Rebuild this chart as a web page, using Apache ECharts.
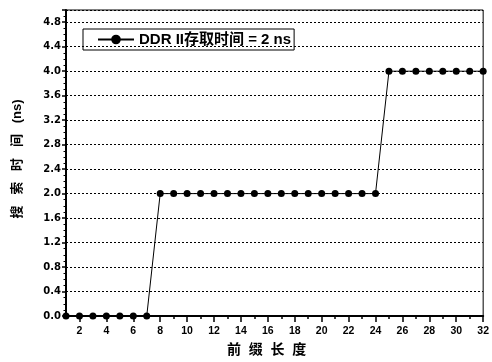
<!DOCTYPE html>
<html>
<head>
<meta charset="utf-8">
<script src="https://cdn.jsdelivr.net/npm/echarts@6/dist/echarts.min.js"></script>
<style>
html,body{margin:0;padding:0;background:#fff;}
#chart{width:492px;height:362px;}
</style>
</head>
<body>
<div id="chart"></div>
<script>
// prefix length (x categories)
const xValues = ['1','2','3','4','5','6','7','8','9','10','11','12','13','14','15','16',
                 '17','18','19','20','21','22','23','24','25','26','27','28','29','30','31','32'];
// search time (ns)
const yValues = [0,0,0,0,0,0,0,
                 2,2,2,2,2,2,2,2,2,2,2,2,2,2,2,2,2,
                 4,4,4,4,4,4,4,4];
const seriesName = 'DDR II存取时间 = 2 ns';
const xName = '前  缀  长  度';
const yName = '搜   索   时   间   (ns)';
const yMin = 0, yMax = 5.0, yStep = 0.4;

const chart = echarts.init(document.getElementById('chart'), null, {renderer:'canvas'});
const baseFont = 'Liberation Sans, Arial, Noto Sans CJK SC, sans-serif';
chart.setOption({
  animation: false,
  backgroundColor: '#fff',
  grid: {left: 66, right: 6, top: 10, bottom: 43, show: true, borderColor: '#000', borderWidth: 1},
  legend: {
    left: 83, top: 29,
    padding: [3, 3, 3, 14],
    borderColor: '#000', borderWidth: 1,
    itemWidth: 36, itemHeight: 12, itemGap: 5,
    textStyle: {fontSize: 15, fontWeight: 'bold', color: '#000', fontFamily: baseFont},
    data: [seriesName]
  },
  xAxis: [{
    type: 'category', data: xValues, boundaryGap: false,
    name: xName, nameLocation: 'middle', nameGap: 27,
    nameTextStyle: {fontSize: 14, fontWeight: 'bold', color: '#000', fontFamily: baseFont, padding: [0, 16, 0, 0]},
    axisLine: {lineStyle: {color: '#000', width: 2}},
    axisTick: {show: true, interval: 0, length: 3, lineStyle: {color: '#000', width: 1.5}},
    axisLabel: {
      interval: function (i, v) { return Number(v) % 2 === 0; },
      margin: 10, fontSize: 10.5, fontWeight: 'bold', color: '#000', fontFamily: baseFont
    },
    splitLine: {show: false}
  }, {
    type: 'category', data: xValues, boundaryGap: false, position: 'bottom',
    axisLine: {show: false},
    axisTick: {show: true, interval: function (i, v) { return Number(v) % 2 === 0; }, length: 6, lineStyle: {color: '#000', width: 1.5}},
    axisLabel: {show: false},
    splitLine: {show: false}
  }],
  yAxis: {
    type: 'value', min: yMin, max: yMax, interval: yStep,
    name: yName, nameLocation: 'middle', nameGap: 42,
    nameTextStyle: {fontSize: 13, fontWeight: 'bold', color: '#000', fontFamily: baseFont, padding: [0, 0, 0, 8]},
    axisLine: {show: true, lineStyle: {color: '#000', width: 2}},
    axisTick: {show: true, length: 4, lineStyle: {color: '#000', width: 1.5}},
    minorTick: {show: true, splitNumber: 4, length: 2.5, lineStyle: {color: '#000', width: 1}},
    axisLabel: {
      showMaxLabel: false,
      formatter: function (v) { return Math.abs(v - yMax) < 1e-6 ? '' : v.toFixed(1); },
      margin: 5, fontSize: 10, fontWeight: 'bold', color: '#000', fontFamily: 'DejaVu Sans, sans-serif'
    },
    splitLine: {show: true, lineStyle: {color: '#000', width: 1, type: [2, 2]}}
  },
  series: [{
    name: seriesName, type: 'line', data: yValues, xAxisIndex: 0,
    symbol: 'circle', symbolSize: 7,
    lineStyle: {color: '#000', width: 1},
    itemStyle: {color: '#000'}
  }]
});
</script>
</body>
</html>
